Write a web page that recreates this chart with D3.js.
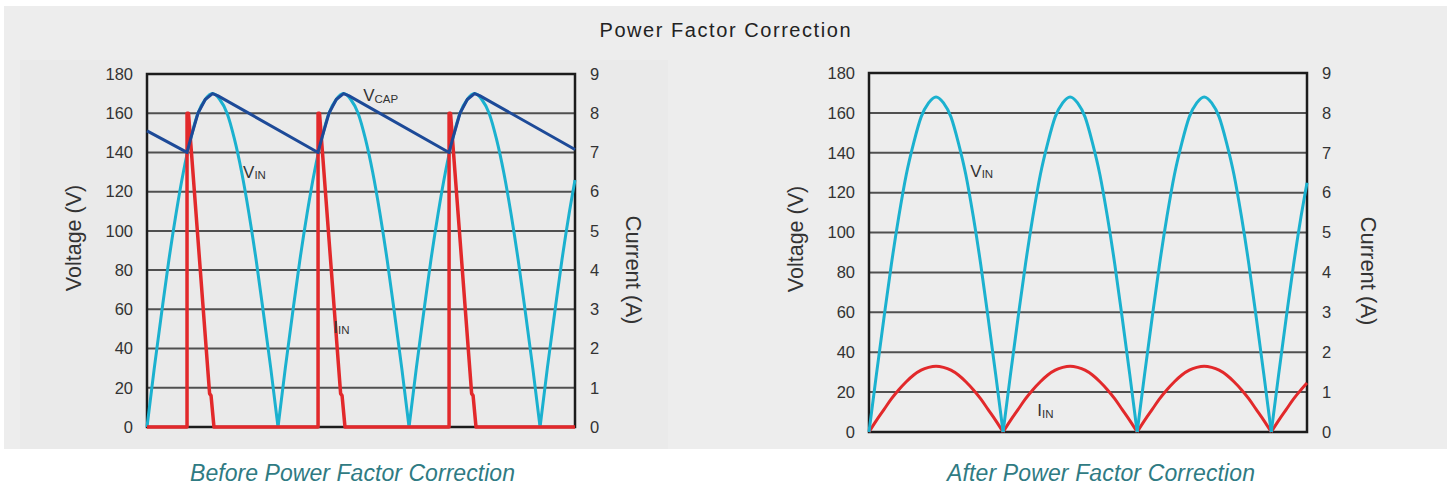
<!DOCTYPE html>
<html>
<head>
<meta charset="utf-8">
<script src="https://cdn.jsdelivr.net/npm/d3@7"></script>
<style>
  body { margin: 0; background: #fff; }
  text { font-family: "Liberation Sans", Arial, sans-serif; }
</style>
</head>
<body>
<div id="plot"></div>
<script>
// phase of the line voltage in degrees (no x axis is drawn on the chart)
const phase = [0,10,20,30,40,50,60,70,80,90,100,110,120,130,140,150,160,170,
  180,190,200,210,220,230,240,250,260,270,280,290,300,310,320,330,340,350,
  360,370,380,390,400,410,420,430,440,450,460,470,480,490,500,510,520,530,
  540,550,560,570,580,588];

// Before PFC: rectified input voltage (V)
const vinBefore = [0,30,58,85,109,130,147,160,167,170,167,160,147,130,109,85,58,30,
  0,30,58,85,109,130,147,160,167,170,167,160,147,130,109,85,58,30,
  0,30,58,85,109,130,147,160,167,170,167,160,147,130,109,85,58,30,
  0,30,58,85,109,126];

// Before PFC: capacitor voltage (V)
const vcapPhase = [0,55,60,70,80,90,97,235,240,250,260,270,277,415,420,430,440,450,457,588];
const vcapBefore = [151,140,147,160,167,170,169,140,147,160,167,170,169,140,147,160,167,170,169,141.5];

// Before PFC: input current (A), narrow pulses
const iinPhase = [0,55,55,57,86,88,92,235,235,237,266,268,272,415,415,417,446,448,452,588];
const iinBefore = [0,0,8,8,0.85,0.8,0,0,8,8,0.85,0.8,0,0,8,8,0.85,0.8,0,0];

// After PFC: input voltage (V) and input current (A)
const vinAfter = [0,29,57,84,108,129,145,158,165,168,165,158,145,129,108,84,57,29,
  0,29,57,84,108,129,145,158,165,168,165,158,145,129,108,84,57,29,
  0,29,57,84,108,129,145,158,165,168,165,158,145,129,108,84,57,29,
  0,29,57,84,108,125];
const iinAfter = [0,0.29,0.56,0.83,1.06,1.26,1.43,1.55,1.62,1.65,1.62,1.55,1.43,1.26,1.06,0.83,0.56,0.29,
  0,0.29,0.56,0.83,1.06,1.26,1.43,1.55,1.62,1.65,1.62,1.55,1.43,1.26,1.06,0.83,0.56,0.29,
  0,0.29,0.56,0.83,1.06,1.26,1.43,1.55,1.62,1.65,1.62,1.55,1.43,1.26,1.06,0.83,0.56,0.29,
  0,0.29,0.56,0.83,1.06,1.23];

// tick labels
const voltTicks = [0,20,40,60,80,100,120,140,160,180];
const ampTicks = [0,1,2,3,4,5,6,7,8,9];

const cyan = "#1bb1cf";
const red = "#e2292b";
const navy = "#1d4a98";

const w = 1447;
const h = 487;

const svg = d3.select("div#plot")
  .append("svg")
    .attr("width", w)
    .attr("height", h);

// grey panel behind both charts
svg.append("rect")
  .attr("x", 4).attr("y", 6)
  .attr("width", w - 4).attr("height", 443)
  .attr("fill", "#ededed");
svg.append("rect")
  .attr("x", 20).attr("y", 60)
  .attr("width", 648).attr("height", 389)
  .attr("fill", "#eaeaea");

// title
svg.append("text")
  .attr("x", 725).attr("y", 37)
  .attr("text-anchor", "middle")
  .attr("font-family", "'Open Sans', sans-serif")
  .attr("font-size", 20)
  .attr("textLength", 251)
  .attr("fill", "#222")
  .text("Power Factor Correction");

// split a rectified wave into half cycles so the cusps at zero stay sharp
function halfCycles(t, v) {
  const parts = [];
  let cur = [];
  t.forEach((d, i) => {
    cur.push([d, v[i]]);
    if (v[i] === 0 && cur.length > 1) {
      parts.push(cur);
      cur = [[d, v[i]]];
    }
  });
  if (cur.length > 1) parts.push(cur);
  return parts;
}

function makePanel(p) {
  const x = d3.scaleLinear().domain([0, 588]).range([p.x0, p.x1]);
  const yV = d3.scaleLinear().domain([0, 180]).range([p.y1, p.y0]);
  const yA = d3.scaleLinear().domain([0, 9]).range([p.y1, p.y0]);
  const g = svg.append("g");

  // horizontal grid
  g.append("g")
    .selectAll("line")
    .data(voltTicks)
    .enter()
    .append("line")
      .attr("x1", p.x0).attr("x2", p.x1)
      .attr("y1", d => yV(d)).attr("y2", d => yV(d))
      .attr("stroke", "#505050")
      .attr("stroke-width", 2);

  // frame
  g.append("rect")
    .attr("x", p.x0).attr("y", p.y0)
    .attr("width", p.x1 - p.x0).attr("height", p.y1 - p.y0)
    .attr("fill", "none")
    .attr("stroke", "#1c1c1c")
    .attr("stroke-width", 2.5);

  // voltage axis
  g.append("g")
    .attr("transform", `translate(${p.x0},0)`)
    .call(d3.axisLeft(yV).tickValues(voltTicks).tickSize(0).tickPadding(14))
    .call(a => a.select(".domain").remove())
    .attr("font-size", 16.5)
    .attr("font-family", "'Liberation Sans', Arial, sans-serif")
    .attr("color", "#333");

  // current axis
  g.append("g")
    .attr("transform", `translate(${p.x1},0)`)
    .call(d3.axisRight(yA).tickValues(ampTicks).tickSize(0).tickPadding(15))
    .call(a => a.select(".domain").remove())
    .attr("font-size", 16.5)
    .attr("font-family", "'Liberation Sans', Arial, sans-serif")
    .attr("color", "#333");

  // axis titles
  g.append("text")
    .attr("transform", `translate(${p.x0 - p.vtx},${p.vty}) rotate(-90)`)
    .attr("text-anchor", "middle")
    .attr("font-size", 21.5)
    .attr("fill", "#333")
    .text("Voltage (V)");
  g.append("text")
    .attr("transform", `translate(${p.x1 + p.atx},${p.aty}) rotate(90)`)
    .attr("text-anchor", "middle")
    .attr("font-size", 22)
    .attr("fill", "#333")
    .text("Current (A)");

  return {g, x, yV, yA};
}

function drawWave(panel, t, v, y, color, width) {
  const line = d3.line()
    .x(d => panel.x(d[0]))
    .y(d => y(d[1]))
    .curve(d3.curveMonotoneX);
  panel.g.append("g")
    .selectAll("path")
    .data(halfCycles(t, v))
    .enter()
    .append("path")
      .attr("d", line)
      .attr("fill", "none")
      .attr("stroke", color)
      .attr("stroke-width", width)
      .attr("stroke-linejoin", "round");
}

function drawPolyline(panel, t, v, y, color, width) {
  const line = d3.line()
    .x((d, i) => panel.x(t[i]))
    .y(d => y(d));
  panel.g.append("path")
    .attr("d", line(v))
    .attr("fill", "none")
    .attr("stroke", color)
    .attr("stroke-width", width)
    .attr("stroke-linejoin", "round");
}

function label(panel, main, sub, t, v) {
  const txt = panel.g.append("text")
    .attr("x", panel.x(t))
    .attr("y", panel.yV(v))
    .attr("fill", "#333")
    .attr("font-size", 17);
  txt.append("tspan").text(main);
  txt.append("tspan").attr("font-size", 11.5).attr("dy", 1.5).text(sub);
}

// Before Power Factor Correction
const left = makePanel({x0: 147, x1: 575, y0: 74, y1: 427, vtx: 66, vty: 238, atx: 51, aty: 270});
drawWave(left, phase, vinBefore, left.yV, cyan, 3);
drawPolyline(left, iinPhase, iinBefore, left.yA, red, 3.5);
drawPolyline(left, vcapPhase, vcapBefore, left.yV, navy, 3);
label(left, "V", "CAP", 297, 166);
label(left, "V", "IN", 132, 127);
label(left, "I", "IN", 256, 48);

// After Power Factor Correction
const right = makePanel({x0: 869, x1: 1307, y0: 73, y1: 432, vtx: 66, vty: 239, atx: 54, aty: 271});
drawWave(right, phase, iinAfter, right.yA, red, 3);
drawWave(right, phase, vinAfter, right.yV, cyan, 3);
label(right, "V", "IN", 136, 128);
label(right, "I", "IN", 226, 8);

// captions
svg.append("text")
  .attr("x", 352.5).attr("y", 481)
  .attr("text-anchor", "middle")
  .attr("font-family", "Lato, sans-serif")
  .attr("font-style", "italic")
  .attr("font-size", 23)
  .attr("textLength", 325)
  .attr("fill", "#2f7b83")
  .text("Before Power Factor Correction");
svg.append("text")
  .attr("x", 1101).attr("y", 481)
  .attr("text-anchor", "middle")
  .attr("font-family", "Lato, sans-serif")
  .attr("font-style", "italic")
  .attr("font-size", 23)
  .attr("textLength", 308)
  .attr("fill", "#2f7b83")
  .text("After Power Factor Correction");
</script>
</body>
</html>
